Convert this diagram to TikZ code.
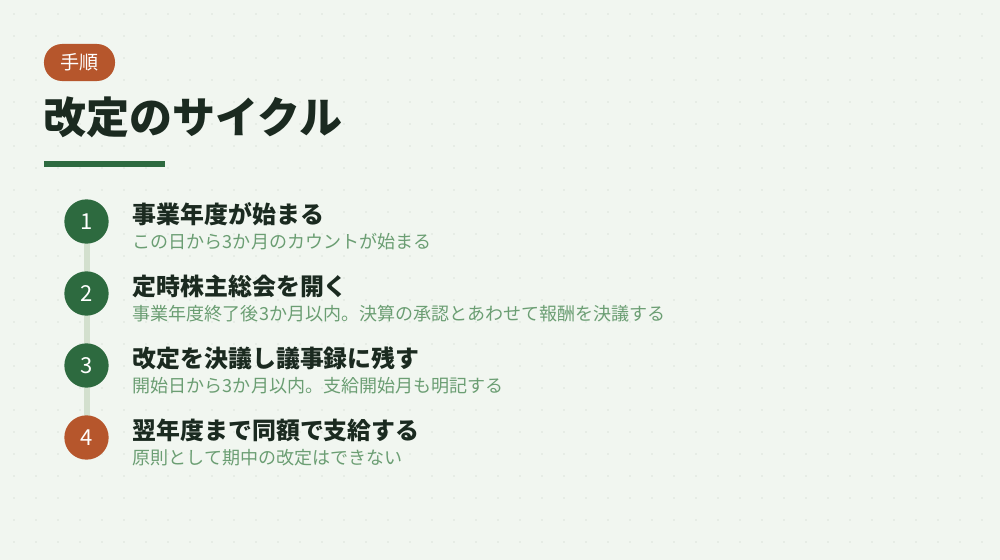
\documentclass[tikz,border=0pt]{standalone}
\usepackage{fontspec}
\setmainfont{Noto Sans CJK JP}
\usetikzlibrary{positioning}

\definecolor{paper}{HTML}{F1F6F0}
\definecolor{gridDot}{HTML}{DCE3DA}
\definecolor{rust}{HTML}{B6562C}
\definecolor{forest}{HTML}{2D6A3F}
\definecolor{ink}{HTML}{1B2A20}
\definecolor{rail}{HTML}{D3E0CE}
\definecolor{muted}{HTML}{6B9E73}

\tikzset{
    tag/.style={fill=rust, text=white, minimum width=2.13cm, minimum height=1.11cm,
        rounded corners=0.54cm, inner sep=0pt, font=\fontsize{16.3}{16.3}\selectfont},
    stepdot/.style={circle, fill=#1, text=white, minimum size=1.33cm, inner sep=0pt,
        font=\fontsize{18.8}{18.8}\selectfont},
    heading/.style={anchor=west, inner sep=0pt, text=ink, font=\fontsize{20.4}{20.4}\selectfont\bfseries},
    note/.style={anchor=west, inner sep=0pt, text=muted, font=\fontsize{15.4}{15.4}\selectfont}
}

\begin{document}
\begin{tikzpicture}[x=0.03cm, y=-0.03cm]
            % page
            \fill[paper] (0,0) rectangle (1000,560);
            \useasboundingbox (0,0) rectangle (1000,560);

            % dot grid
            \foreach \u in {14,36,...,992}
                \foreach \v in {14,36,...,552}
                    \fill[gridDot] (\u,\v) circle (0.75pt);

            % header
            \node[tag] (tag) at (79.5,62.5) {手順};
            \node[anchor=west, inner sep=0pt, text=ink, font=\fontsize{36.7}{36.7}\selectfont\bfseries]
                (title) at (43,117) {改定のサイクル};
            \fill[forest] (44,161) rectangle (165,166.5);

            % steps
            \foreach \n/\y in {1/221.5, 2/293.5, 3/365.5, 4/437.5}
                {
                    \coordinate (c\n) at (86.5,\y);
                }
            \draw[rail, line width=0.18cm] (c1) -- (c4);

            \foreach \n/\c/\head/\txt in {
                    1/forest/事業年度が始まる/この日から3か月のカウントが始まる,
                    2/forest/定時株主総会を開く/事業年度終了後3か月以内。決算の承認とあわせて報酬を決議する,
                    3/forest/改定を決議し議事録に残す/開始日から3か月以内。支給開始月も明記する,
                    4/rust/翌年度まで同額で支給する/原則として期中の改定はできない}
                {
                    \node[stepdot=\c] (s\n) at (c\n) {\n};
                    \node[heading] (h\n) at ([shift={(46,-7.5)}]c\n) {\head};
                    \node[note] (t\n) at ([shift={(46,20.5)}]c\n) {\txt};
                }

        \end{tikzpicture}
\end{document}
